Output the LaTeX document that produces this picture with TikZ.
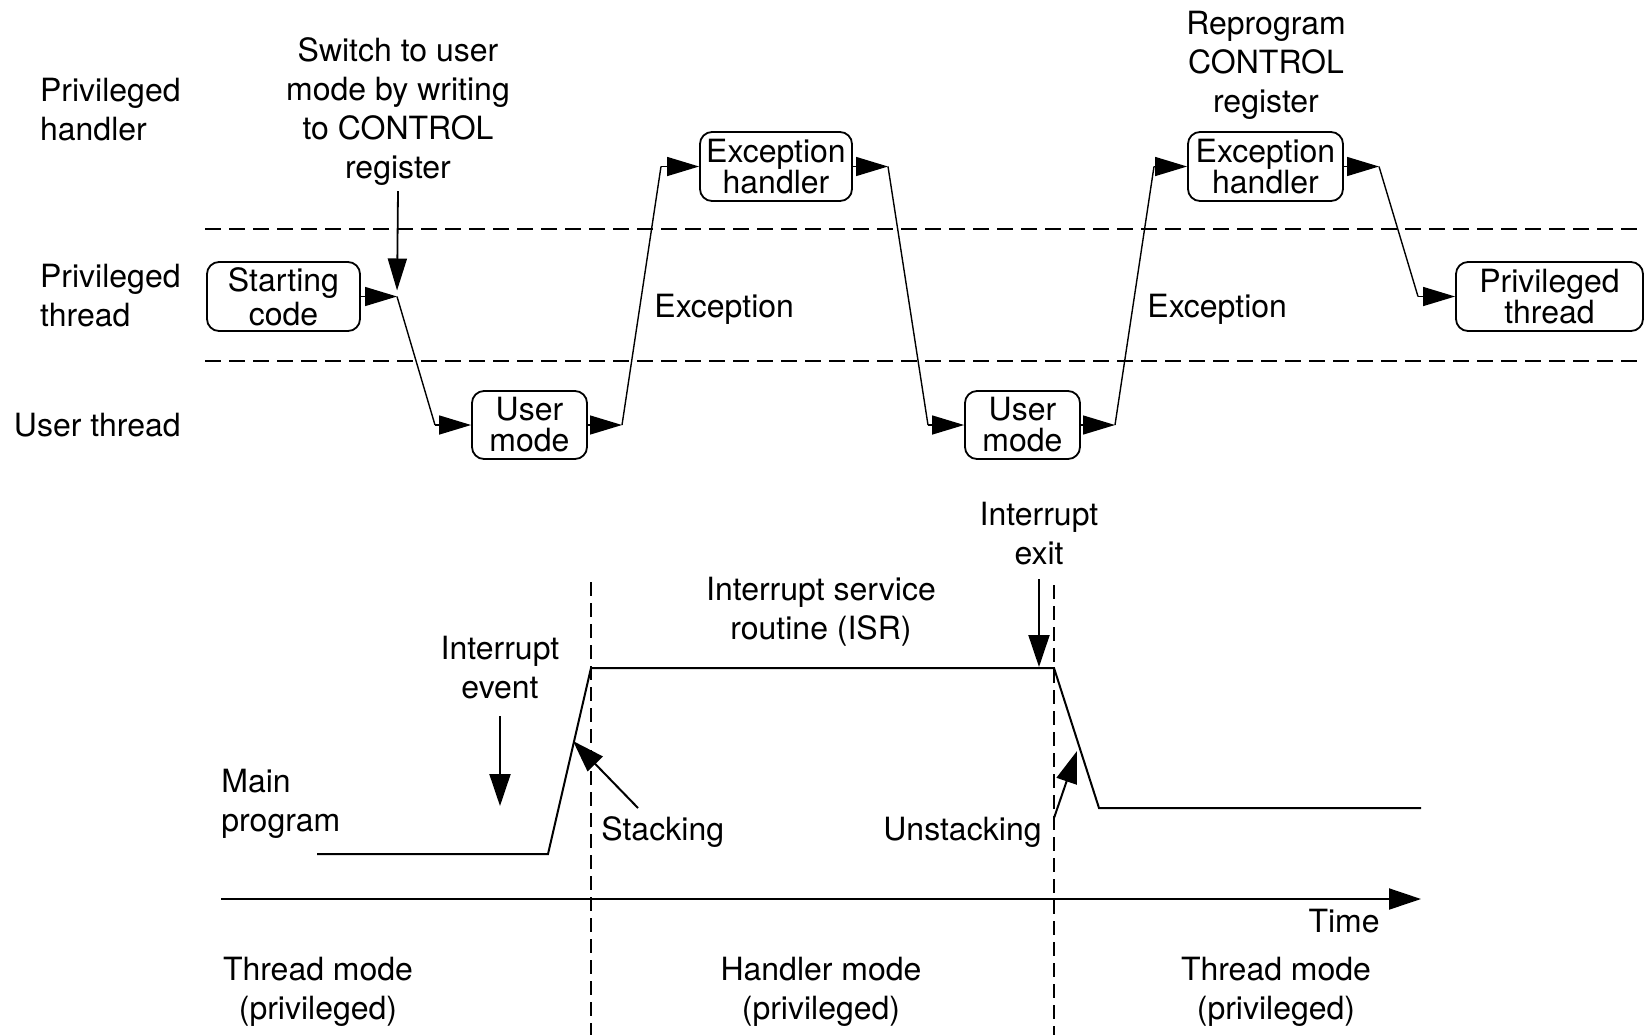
\documentclass[tikz,border=0pt]{standalone}
\usepackage{fontspec}
\setmainfont{TeX Gyre Heros}
\usetikzlibrary{arrows.meta}
\begin{document}
\begin{tikzpicture}[x=0.5pt,y=-0.5pt,
  lbl/.style={inner sep=0pt, font=\fontsize{16}{19.5}\selectfont, align=center},
  lbll/.style={lbl, align=left},
  box/.style={draw, line width=0.9pt, rounded corners=6pt, inner sep=0pt, align=center,
              font=\fontsize{16}{15.5}\selectfont},
  conn/.style={line width=0.7pt},
  arr/.style={conn, -{Triangle[length=16pt,width=9.5pt]}},
  bigarr/.style={line width=1pt, -{Triangle[length=16pt,width=10.5pt]}},
  lane/.style={line width=0.8pt, dash pattern=on 8pt off 4pt},
  vlane/.style={line width=0.8pt, dash pattern=on 7pt off 3.5pt},
  level/.style={line width=1pt},
]
\useasboundingbox (0,0) rectangle (1645,1035);

% ---------------- upper part: privilege levels ----------------
% lane separators
\coordinate (laneTL) at (205,229);  \coordinate (laneTR) at (1645,229);
\coordinate (laneBL) at (205,361);  \coordinate (laneBR) at (1645,361);
\draw[lane] (laneTL) -- (laneTR);
\draw[lane] (laneBL) -- (laneBR);

% lane names
\node[lbll, anchor=east] (lph) at (181,110) {Privileged\\handler};
\node[lbll, anchor=east] (lpt) at (181,296) {Privileged\\thread};
\node[lbll, anchor=east] (lut) at (181,425) {User thread};

% states
\node[box, minimum width=76.5pt, minimum height=34.5pt, font=\fontsize{16}{17}\selectfont] (start) at (283.5,296.5) {Starting\\code};
\node[box, minimum width=57.5pt, minimum height=34pt]   (user1) at (529.5,425) {User\\mode};
\node[box, minimum width=76pt,   minimum height=34.5pt] (exc1)  at (776,166.5) {Exception\\handler};
\node[box, minimum width=57.5pt, minimum height=34pt]   (user2) at (1022.5,425) {User\\mode};
\node[box, minimum width=77.5pt, minimum height=34.5pt] (exc2)  at (1265.5,166.5) {Exception\\handler};
\node[box, minimum width=93.5pt, minimum height=34.5pt] (priv)  at (1549.5,296.5) {Privileged\\thread};

% transition bends
\coordinate (P1) at (397,296.5);  \coordinate (Q1) at (435,425);
\coordinate (P2) at (622,425);    \coordinate (Q2) at (661,166.5);
\coordinate (P3) at (888,166.5);  \coordinate (Q3) at (928,425);
\coordinate (P4) at (1115,425);   \coordinate (Q4) at (1154,166.5);
\coordinate (P5) at (1379,166.5); \coordinate (Q5) at (1418,296.5);

\draw[arr] (start.east) -- (P1);  \draw[conn] (P1) -- (Q1);  \draw[arr] (Q1) -- (user1.west);
\draw[arr] (user1.east) -- (P2);  \draw[conn] (P2) -- (Q2);  \draw[arr] (Q2) -- (exc1.west);
\draw[arr] (exc1.east) -- (P3);   \draw[conn] (P3) -- (Q3);  \draw[arr] (Q3) -- (user2.west);
\draw[arr] (user2.east) -- (P4);  \draw[conn] (P4) -- (Q4);  \draw[arr] (Q4) -- (exc2.west);
\draw[arr] (exc2.east) -- (P5);   \draw[conn] (P5) -- (Q5);  \draw[arr] (Q5) -- (priv.west);

% annotations
\node[lbl] (sw) at (398,111.5) {Switch to user\\mode by writing\\to CONTROL\\register};
\coordinate (swtop) at (398,191);
\draw[arr, line width=0.9pt, shorten >=3pt] (swtop) -- (P1);
\node[lbl] (rp) at (1266,65.5) {Reprogram\\CONTROL\\register};
\node[lbl, anchor=west] (ex1) at (654,309) {Exception};
\node[lbl, anchor=west] (ex2) at (1147,309) {Exception};

% ---------------- lower part: interrupt timing ----------------
\coordinate (vd1t) at (591,582);  \coordinate (vd1b) at (591,1035);
\coordinate (vd2t) at (1054,585); \coordinate (vd2b) at (1054,1035);
\draw[vlane] (vd1t) -- (vd1b);
\draw[vlane] (vd2t) -- (vd2b);

\coordinate (mainA) at (317,854);  \coordinate (mainB) at (548,854);
\coordinate (isrA)  at (591,668);  \coordinate (isrB)  at (1054,668);
\coordinate (endA)  at (1099,808); \coordinate (endB)  at (1421,808);
\draw[level] (mainA) -- (mainB) -- (isrA) -- (isrB) -- (endA) -- (endB);

% time axis
\coordinate (t0) at (221,899); \coordinate (t1) at (1421,899);
\draw[bigarr] (t0) -- (t1);
\node[lbl, anchor=east] (time) at (1380,921) {Time};

% events
\node[lbl] (iev) at (500,667.5) {Interrupt\\event};
\coordinate (ievA) at (500,716); \coordinate (ievB) at (500,806);
\draw[bigarr] (ievA) -- (ievB);

\node[lbl] (iex) at (1039,533.5) {Interrupt\\exit};
\coordinate (iexA) at (1039,579); \coordinate (iexB) at (1039,667);
\draw[bigarr] (iexA) -- (iexB);

\node[lbl] (isr) at (821,612) {Interrupt service\\routine (ISR)};

\node[lbl, anchor=west] (stk) at (601,832) {Stacking};
\coordinate (stkA) at (638,808); \coordinate (stkB) at (573,741);
\draw[bigarr] (stkA) -- (stkB);

\node[lbl, anchor=east] (ustk) at (1042,832) {Unstacking};
\coordinate (ustA) at (1054,818); \coordinate (ustB) at (1077,751);
\draw[bigarr] (ustA) -- (ustB);

\node[lbll, anchor=west] (mp) at (221,804) {Main\\program};

% mode names
\node[lbl] (tm1) at (318,991.5) {Thread mode\\(privileged)};
\node[lbl] (hm)  at (821,991.5) {Handler mode\\(privileged)};
\node[lbl] (tm2) at (1276,991.5) {Thread mode\\(privileged)};
\end{tikzpicture}
\end{document}
